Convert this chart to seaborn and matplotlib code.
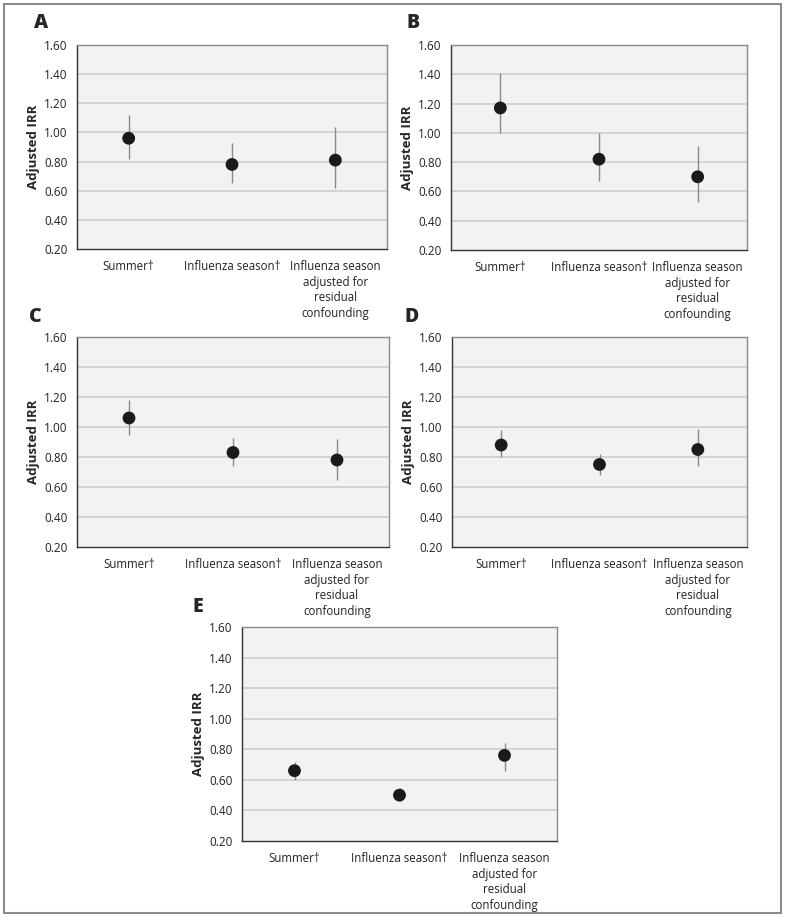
import numpy as np
import pandas as pd
import seaborn as sns
import matplotlib.pyplot as plt
from matplotlib.patches import Rectangle

categories = ['Summer†', 'Influenza season†', 'Influenza season\nadjusted for\nresidual\nconfounding']
panels = ['A', 'B', 'C', 'D', 'E']

irr_A = [0.96, 0.78, 0.81]
low_A = [0.82, 0.65, 0.62]
high_A = [1.12, 0.93, 1.04]

irr_B = [1.17, 0.82, 0.70]
low_B = [1.00, 0.67, 0.53]
high_B = [1.41, 1.00, 0.91]

irr_C = [1.06, 0.83, 0.78]
low_C = [0.95, 0.74, 0.65]
high_C = [1.18, 0.93, 0.92]

irr_D = [0.88, 0.75, 0.85]
low_D = [0.80, 0.68, 0.74]
high_D = [0.98, 0.82, 0.99]

irr_E = [0.66, 0.50, 0.76]
low_E = [0.60, 0.46, 0.66]
high_E = [0.72, 0.55, 0.84]

yticks = [0.20, 0.40, 0.60, 0.80, 1.00, 1.20, 1.40, 1.60]

data = {
    'A': (irr_A, low_A, high_A),
    'B': (irr_B, low_B, high_B),
    'C': (irr_C, low_C, high_C),
    'D': (irr_D, low_D, high_D),
    'E': (irr_E, low_E, high_E),
}

sns.set_style('white')
plt.rcParams['font.family'] = ['Open Sans', 'DejaVu Sans']

W, H = 786, 918
fig = plt.figure(figsize=(W / 100, H / 100), dpi=100)

# axes boxes in pixels: left, top, right, bottom
boxes = {
    'A': (77, 45, 387, 249),
    'B': (451, 45, 747, 250),
    'C': (77, 337, 389, 547),
    'D': (452, 337, 747, 547),
    'E': (242, 627, 557, 841),
}
letter_pos = {'A': (34, 23), 'B': (407, 23), 'C': (29, 317), 'D': (405, 317), 'E': (193, 607)}

for p in panels:
    l, t, r, b = boxes[p]
    ax = fig.add_axes([l / W, 1 - b / H, (r - l) / W, (b - t) / H])
    irr, lo, hi = data[p]
    df = pd.DataFrame({'cat': categories, 'irr': irr, 'lo': lo, 'hi': hi})
    ax.set_facecolor('#f2f2f2')
    for y in yticks[1:-1]:
        ax.axhline(y, color='#cacaca', lw=1.1, zorder=0)
    ax.vlines(np.arange(len(df)), df['lo'], df['hi'], color='#8a8a8a', lw=1, zorder=2)
    sns.scatterplot(data=df, x='cat', y='irr', ax=ax, color='#1a1a1a', s=85,
                    edgecolor='none', zorder=3, legend=False)
    ax.set_xlim(-0.5, 2.5)
    ax.set_ylim(0.2, 1.6)
    ax.set_yticks(yticks)
    ax.set_yticklabels([f'{v:.2f}' for v in yticks], fontsize=8.5, color='#222222')
    ax.set_xticks([0, 1, 2])
    ax.set_xticklabels(categories, fontsize=8.3, color='#222222', linespacing=1.25)
    ax.set_xticks([-0.5, 0.5, 1.5, 2.5], minor=True)
    ax.tick_params(axis='x', which='major', length=0, pad=8)
    ax.tick_params(axis='x', which='minor', length=4, width=1, color='#333333', direction='out')
    ax.tick_params(axis='y', length=3, width=0.8, color='#333333', pad=4)
    ax.set_xlabel('')
    ax.set_ylabel('Adjusted IRR', fontsize=9.5, fontweight='bold', labelpad=3)
    for s in ['top', 'right']:
        ax.spines[s].set_color('#8c8c8c')
        ax.spines[s].set_linewidth(1)
    for s in ['left', 'bottom']:
        ax.spines[s].set_color('#333333')
        ax.spines[s].set_linewidth(1)
    lx, ly = letter_pos[p]
    fig.text(lx / W, 1 - ly / H, p, fontsize=14, fontweight='heavy', va='center', ha='left')

fig.patches.append(Rectangle((4 / W, 1 - 913 / H), 777 / W, 909 / H, transform=fig.transFigure,
                             fill=False, edgecolor='#8c8c8c', lw=1.5))

fig.savefig('out.png', dpi=100)
